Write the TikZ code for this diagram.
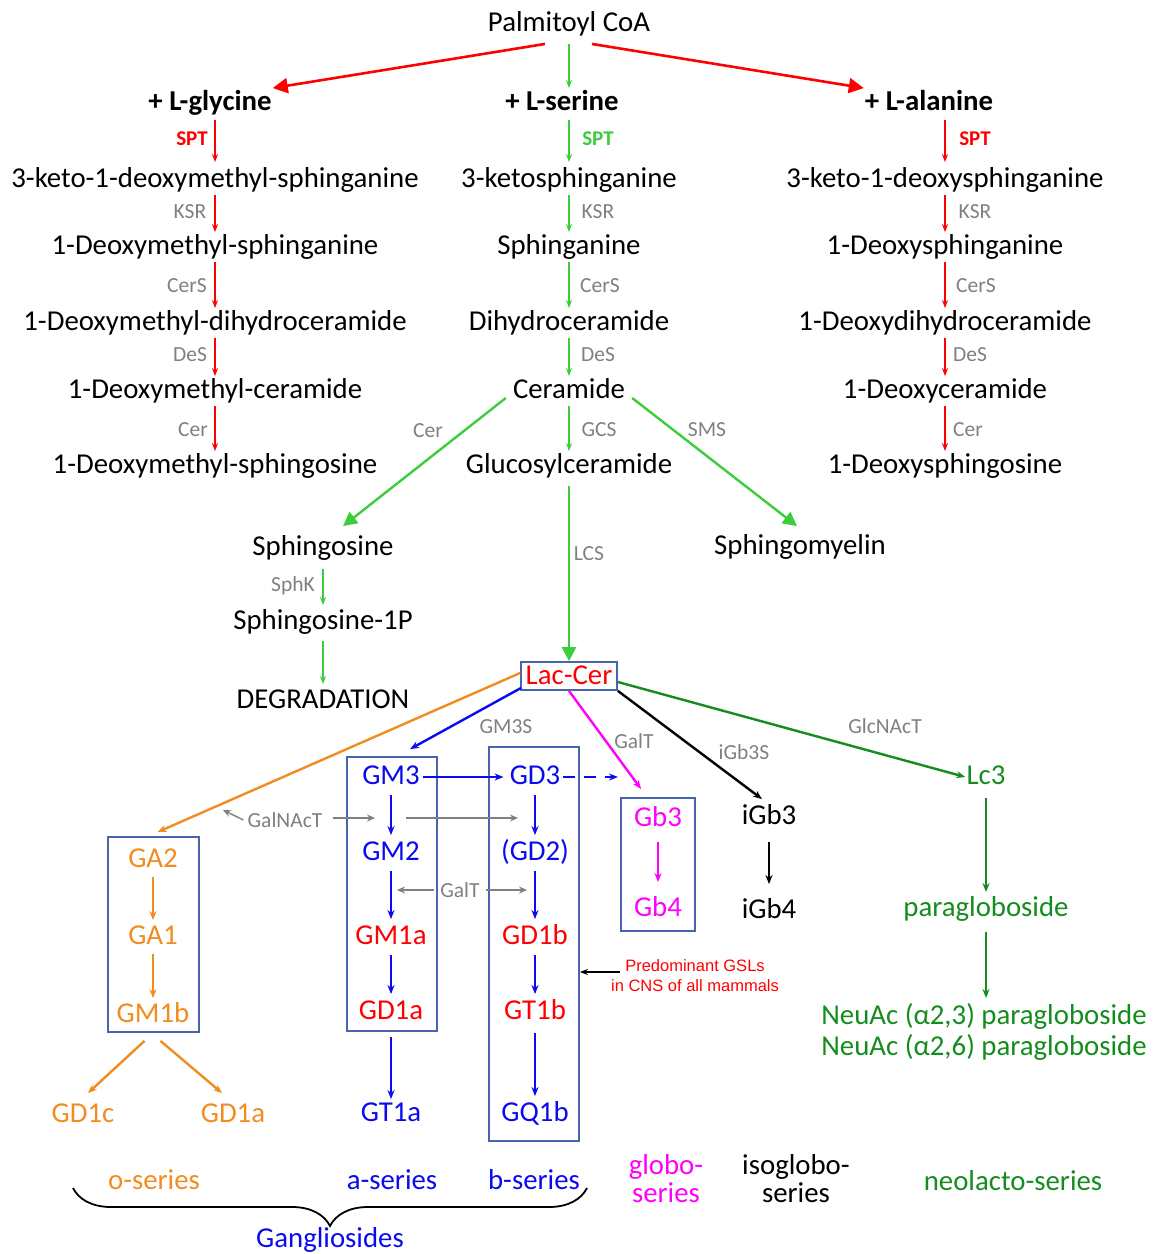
\documentclass[tikz,border=0pt]{standalone}
\usepackage{fontspec}
\setmainfont{Carlito}
\newfontfamily\arialf{Liberation Sans}
\usetikzlibrary{arrows.meta,calc,decorations.pathreplacing}
\definecolor{cred}{RGB}{255,0,0}
\definecolor{cgreen}{RGB}{60,205,60}
\definecolor{corange}{RGB}{242,140,30}
\definecolor{cblue}{RGB}{10,10,240}
\definecolor{cmag}{RGB}{255,0,255}
\definecolor{cdkgreen}{RGB}{20,140,30}
\definecolor{cgray}{RGB}{128,128,128}
\definecolor{cbox}{RGB}{72,100,170}
\begin{document}
\begin{tikzpicture}[x=1pt,y=-1pt,
  main/.style={font=\fontsize{28.8}{30}\selectfont, inner sep=1pt, text height=21pt, text depth=6.5pt, yshift=-2pt},
  bmain/.style={main, font=\fontsize{28.8}{30}\selectfont\bfseries},
  lbl/.style={font=\fontsize{21.5}{23}\selectfont, text=cgray, inner sep=1pt},
  sptl/.style={font=\fontsize{21}{23}\selectfont\bfseries, inner sep=1pt},
  ser/.style={font=\fontsize{28.8}{28}\selectfont, inner sep=1pt, align=center},
  tarr/.style={-{Stealth[length=8pt,width=6pt]}, line width=1.8pt},
  garr/.style={-{Stealth[length=9pt,width=7pt]}, line width=2.4pt},
  bigarr/.style={-{Triangle[length=15pt,width=15pt]}, line width=2.6pt},
  midarr/.style={-{Triangle[length=14pt,width=14pt]}, line width=2.4pt},
  grarr/.style={-{Stealth[length=8pt,width=7pt]}, line width=1.4pt, cgray},
  boxst/.style={draw=cbox, line width=1.8pt, inner sep=0pt}
]
\useasboundingbox (0,0) rectangle (1154,1254);

% ---------- top ----------
\node[main] (pc) at (569,22) {Palmitoyl CoA};
\node[bmain] (gly) at (210,101) {+ L-glycine};
\node[bmain] (sern) at (562,101) {+ L-serine};
\node[bmain] (ala) at (929,101) {+ L-alanine};

% ---------- left column ----------
\node[main] (gk) at (215,178) {3-keto-1-deoxymethyl-sphinganine};
\node[main] (gs) at (215,245) {1-Deoxymethyl-sphinganine};
\node[main] (gdh) at (215,321) {1-Deoxymethyl-dihydroceramide};
\node[main] (gc) at (215,389) {1-Deoxymethyl-ceramide};
\node[main] (gso) at (215,464) {1-Deoxymethyl-sphingosine};
\node[sptl,text=cred] (l1) at (192,139) {SPT};
\node[lbl] (l2) at (190,212) {KSR};
\node[lbl] (l3) at (187,286) {CerS};
\node[lbl] (l4) at (190,355) {DeS};
\node[lbl] (l5) at (193,430) {Cer};

% ---------- middle column ----------
\node[main] (sk) at (569,178) {3-ketosphinganine};
\node[main] (ss) at (569,245) {Sphinganine};
\node[main] (sdh) at (569,321) {Dihydroceramide};
\node[main] (scer) at (569,389) {Ceramide};
\node[main] (sglc) at (569,464) {Glucosylceramide};
\node[sptl,text=cgreen] (m1) at (598,139) {SPT};
\node[lbl] (m2) at (598,212) {KSR};
\node[lbl] (m3) at (600,286) {CerS};
\node[lbl] (m4) at (598,355) {DeS};
\node[lbl] (m5) at (599,430) {GCS};

% ---------- right column ----------
\node[main] (ak) at (945,178) {3-keto-1-deoxysphinganine};
\node[main] (as) at (945,245) {1-Deoxysphinganine};
\node[main] (adh) at (945,321) {1-Deoxydihydroceramide};
\node[main] (ac) at (945,389) {1-Deoxyceramide};
\node[main] (aso) at (945,464) {1-Deoxysphingosine};
\node[sptl,text=cred] (r1) at (975,139) {SPT};
\node[lbl] (r2) at (975,212) {KSR};
\node[lbl] (r3) at (976,286) {CerS};
\node[lbl] (r4) at (970,355) {DeS};
\node[lbl] (r5) at (968,430) {Cer};

% ---------- ceramide branches ----------
\node[main] (sph) at (323,546) {Sphingosine};
\node[main] (s1p) at (323,620) {Sphingosine-1P};
\node[main] (deg) at (323,699) {DEGRADATION};
\node[main] (sm) at (800,545) {Sphingomyelin};
\node[lbl] (lcer) at (428,431) {Cer};
\node[lbl] (lsms) at (707,430) {SMS};
\node[lbl] (lsphk) at (293,586) {SphK};
\node[lbl] (llcs) at (589,554) {LCS};

% ---------- boxes ----------
\node[boxst, minimum width=91pt, minimum height=195pt] (obox) at (153.5,934.5) {};
\node[boxst, minimum width=90pt, minimum height=274pt] (abox) at (392,894) {};
\node[boxst, minimum width=90pt, minimum height=394pt] (bbox) at (534,944) {};
\node[boxst, minimum width=74pt, minimum height=133pt] (gbbox) at (658,864.5) {};
\node[boxst, minimum width=96pt, minimum height=28pt, text=cred, font=\fontsize{28.8}{30}\selectfont, text height=22pt, text depth=5pt] (lac) at (569,676) {Lac-Cer};

% ---------- gangliosides ----------
\begin{scope}[every node/.append style={main}]
\node[text=corange] (ga2) at (153,858) {GA2};
\node[text=corange] (ga1) at (153,935) {GA1};
\node[text=corange] (gm1b) at (153,1013) {GM1b};
\node[text=corange] (gd1c) at (83,1113) {GD1c};
\node[text=corange] (gd1ao) at (233,1113) {GD1a};
\node[text=cblue] (gm3) at (391,775) {GM3};
\node[text=cblue] (gm2) at (391,851) {GM2};
\node[text=cred] (gm1a) at (391,935) {GM1a};
\node[text=cred] (gd1a) at (391,1010) {GD1a};
\node[text=cblue] (gt1a) at (391,1112) {GT1a};
\node[text=cblue] (gd3) at (535,775) {GD3};
\node[text=cblue] (gd2) at (535,851) {(GD2)};
\node[text=cred] (gd1b) at (535,935) {GD1b};
\node[text=cred] (gt1b) at (535,1010) {GT1b};
\node[text=cblue] (gq1b) at (535,1112) {GQ1b};
\node[text=cmag] (gb3) at (658,817) {Gb3};
\node[text=cmag] (gb4) at (658,907) {Gb4};
\node (igb3) at (769,815) {iGb3};
\node (igb4) at (769,909) {iGb4};
\node[text=cdkgreen] (lc3) at (986,775) {Lc3};
\node[text=cdkgreen] (para) at (986,907) {paragloboside};
\node[text=cdkgreen] (neu1) at (984,1015) {NeuAc (α2,3) paragloboside};
\node[text=cdkgreen] (neu2) at (984,1046) {NeuAc (α2,6) paragloboside};
\end{scope}

\node[lbl] (lgm3s) at (506,727) {GM3S};
\node[lbl] (lgalt1) at (634,741) {GalT};
\node[lbl] (ligb3s) at (744,752) {iGb3S};
\node[lbl] (lglc) at (885,726) {GlcNAcT};
\node[lbl] (lgalnact) at (285,820) {GalNAcT};
\node[lbl] (lgalt2) at (460,890) {GalT};

\node[font=\arialf\fontsize{16.5}{20}\selectfont, text=cred, align=center, inner sep=0pt] (pred) at (695,976) {Predominant GSLs\\in CNS of all mammals};

% ---------- bottom labels ----------
\node[ser, text=corange] (os) at (154,1180) {o-series};
\node[ser, text=cblue] (as2) at (392,1180) {a-series};
\node[ser, text=cblue] (bs) at (534,1180) {b-series};
\node[ser, text=cmag] (glb) at (666,1179) {globo-\\series};
\node[ser] (iglb) at (796,1179) {isoglobo-\\series};
\node[ser, text=cdkgreen] (neo) at (1013,1181) {neolacto-series};
\node[ser, text=cblue] (gang) at (330,1240) {Gangliosides};

% ---------- coordinates ----------
\coordinate (bl) at (73,1188);
\coordinate (br) at (587,1188);
\coordinate (dashend) at (618,777);
\coordinate (gnl) at (223,810);
\coordinate (gnr) at (375,818);
\coordinate (gn2s) at (406,818);
\coordinate (gn2e) at (518,818);
\coordinate (gtl) at (397,890);
\coordinate (gtr) at (527,890);
\coordinate (pa) at (bbox.east |- pred.west);

% ---------- connectors: top ----------
\draw[bigarr, cred] ($(pc.south)+(-24,5)$) -- (gly.north east);
\draw[bigarr, cred] ($(pc.south)+(23,5)$) -- (ala.north west);
\draw[tarr, cgreen, line width=1.5pt, shorten <=5pt] (pc.south) -- (pc.south |- sern.north);

% left chain
\draw[tarr, cred, shorten <=2pt, shorten >=3pt] (gly.south -| gk) -- (gk.north);
\draw[tarr, cred] (gk) -- (gs);
\draw[tarr, cred] (gs.south) -- (gdh.north);
\draw[tarr, cred] (gdh.south) -- (gc.north);
\draw[tarr, cred] (gc.south) -- (gso.north);
% middle chain
\draw[tarr, cgreen, line width=1.5pt, shorten <=2pt, shorten >=3pt] (sern.south -| sk) -- (sk.north);
\draw[tarr, cgreen, line width=1.5pt] (sk.south) -- (ss.north);
\draw[tarr, cgreen, line width=1.5pt] (ss.south) -- (sdh.north);
\draw[tarr, cgreen, line width=1.5pt] (sdh.south) -- (scer.north);
\draw[tarr, cgreen, line width=1.5pt] (scer.south) -- (sglc.north);
% right chain
\draw[tarr, cred, shorten <=2pt, shorten >=3pt] (ala.south -| ak) -- (ak.north);
\draw[tarr, cred] (ak.south) -- (as.north);
\draw[tarr, cred] (as.south) -- (adh.north);
\draw[tarr, cred] (adh.south) -- (ac.north);
\draw[tarr, cred] (ac.south) -- (aso.north);

% ceramide branches
\draw[midarr, cgreen] ($(scer.west)+(-6,7)$) -- ($(sph.north)+(20,-7)$);
\draw[midarr, cgreen] ($(scer.east)+(6,7)$) -- ($(sm.north)+(-3,-6)$);
\draw[midarr, cgreen, shorten <=5pt] (sglc.south) -- (lac.north);
\draw[tarr, cgreen, line width=1.5pt, shorten <=6pt, shorten >=2pt] (sph.south) -- (s1p.north);
\draw[tarr, cgreen, line width=1.5pt, shorten <=4pt, shorten >=2pt] (s1p.south) -- (deg.north);

% Lac-Cer outputs
\draw[garr, corange] ($(lac.west)+(0,-3)$) -- ($(obox.north)+(4,-4)$);
\draw[garr, cblue] ($(lac.south west)+(1,-3)$) -- ($(abox.north)+(18,-7)$);
\draw[garr, cmag] (lac.south) -- ($(gbbox.north west)+(21,-8)$);
\draw[garr, black] (lac.south east) -- ($(igb3.north)+(-7,-3)$);
\draw[garr, cdkgreen] ($(lac.east)+(0,6)$) -- (lc3.west);

% o-series
\draw[garr, corange, shorten <=2pt, shorten >=2pt] (ga2.south) -- (ga1.north);
\draw[garr, corange, shorten <=2pt, shorten >=2pt] (ga1.south) -- (gm1b.north);
\draw[garr, corange] ($(obox.south)+(-9,8)$) -- ($(gd1c.north)+(5,-7)$);
\draw[garr, corange] ($(obox.south)+(7,8)$) -- ($(gd1ao.north)+(-11,-7)$);
% a-series
\draw[garr, cblue, shorten <=3pt, shorten >=3pt] (gm3.south) -- (gm2.north);
\draw[garr, cblue, shorten <=3pt, shorten >=3pt] (gm2.south) -- (gm1a.north);
\draw[garr, cblue, shorten <=3pt, shorten >=3pt] (gm1a.south) -- (gd1a.north);
\draw[garr, cblue, shorten <=5pt] (abox.south -| gt1a) -- (gt1a.north);
% b-series
\draw[garr, cblue, shorten <=3pt, shorten >=3pt] (gd3.south) -- (gd2.north);
\draw[garr, cblue, shorten <=3pt, shorten >=3pt] (gd2.south) -- (gd1b.north);
\draw[garr, cblue, shorten <=3pt, shorten >=3pt] (gd1b.south) -- (gt1b.north);
\draw[garr, cblue, shorten <=6pt, shorten >=3pt] (gt1b.south) -- (gq1b.north);
\draw[garr, cblue, shorten <=2pt, shorten >=5pt] (gm3.east) -- (gd3.west);
\draw[garr, cblue, dashed, dash pattern=on 12pt off 9pt, shorten <=2pt] (gd3.east) -- (dashend);
% globo / isoglobo / neolacto
\draw[garr, cmag, shorten <=8pt, shorten >=12pt] (gb3.south) -- (gb4.north);
\draw[garr, black, shorten <=10pt, shorten >=12pt] (igb3.south) -- (igb4.north);
\draw[garr, cdkgreen, shorten <=6pt, shorten >=2pt] (lc3.south) -- (para.north);
\draw[garr, cdkgreen, shorten <=8pt, shorten >=4pt] (para.south) -- (para.south |- neu1.north);

% gray enzyme arrows
\draw[grarr] ($(lgalnact.west)+(-3,0)$) -- (gnl);
\draw[grarr] ($(lgalnact.east)+(9,-2)$) -- (gnr);
\draw[grarr] (gn2s) -- (gn2e);
\draw[grarr] ($(lgalt2.west)+(-5,0)$) -- (gtl);
\draw[grarr] ($(lgalt2.east)+(5,0)$) -- (gtr);

% predominant arrow
\draw[-{Stealth[length=8pt,width=6pt]}, line width=1.2pt] ($(pred.west)+(9,-4)$) -- ($(pa)+(0,-4)$);

% brace
\draw[decorate, decoration={brace, mirror, amplitude=38pt}, line width=1.8pt] (bl) -- (br);
\end{tikzpicture}
\end{document}
